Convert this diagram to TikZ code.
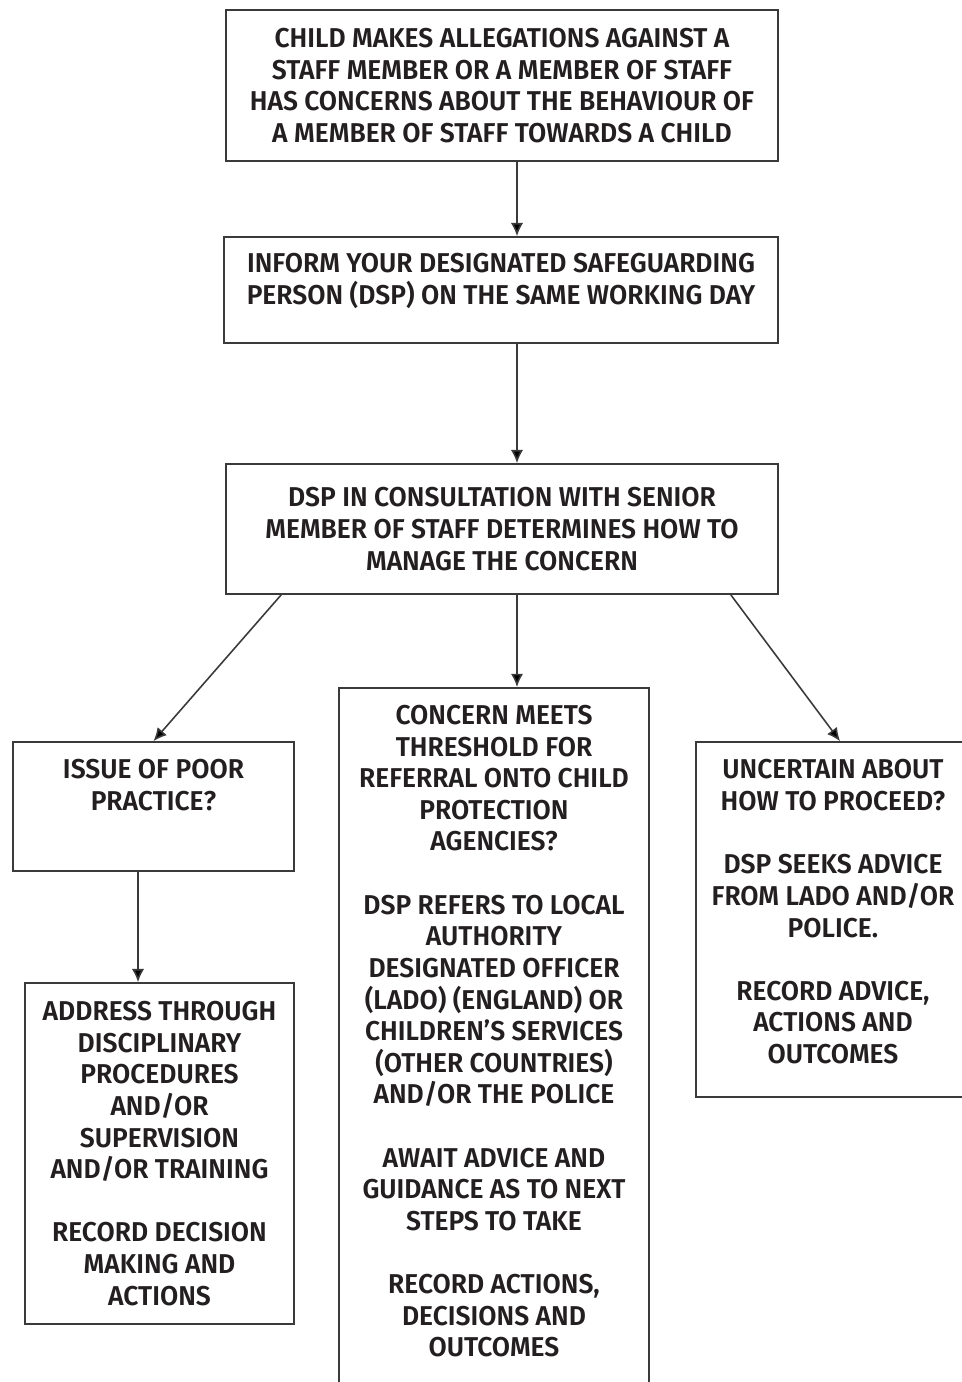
\documentclass[tikz,border=0pt]{standalone}
\usepackage{fontspec}
\setmainfont{Fira Sans}[UprightFont={* SemiBold},FakeStretch=0.97]
\usetikzlibrary{arrows.meta}
\definecolor{ink}{HTML}{231F20}
\definecolor{rule}{HTML}{3A3A3A}
\tikzset{
  stepbox/.style={draw=rule,line width=1pt,align=center,text=ink,inner sep=0pt,
    font=\fontsize{15.5}{18}\selectfont},
  flow/.style={draw=rule,line width=0.9pt,-{Latex[length=7.5pt,width=7pt,fill=black]}}
}
\begin{document}
\begin{tikzpicture}[x=0.02cm,y=-0.02cm]
\useasboundingbox (0,0) rectangle (961,1382);
\node[stepbox,minimum width=11.04cm,minimum height=3.02cm] (allege) at (502,85.5)
  {CHILD MAKES ALLEGATIONS AGAINST A\\STAFF MEMBER OR A MEMBER OF STAFF\\HAS CONCERNS ABOUT THE BEHAVIOUR OF\\A MEMBER OF STAFF TOWARDS A CHILD};
\node[stepbox,minimum width=11.08cm,minimum height=2.12cm] (inform) at (501,290)
  {INFORM YOUR DESIGNATED SAFEGUARDING\\PERSON (DSP) ON THE SAME WORKING DAY\\[-5pt]~};
\node[stepbox,minimum width=11.04cm,minimum height=2.6cm] (consult) at (502,529)
  {DSP IN CONSULTATION WITH SENIOR\\MEMBER OF STAFF DETERMINES HOW TO\\MANAGE THE CONCERN};
\node[stepbox,minimum width=5.62cm,minimum height=2.58cm] (poor) at (153.5,806.5)
  {ISSUE OF POOR\\PRACTICE?\\[7pt]~};
\node[stepbox,minimum width=5.38cm,minimum height=6.82cm] (address) at (159.5,1153.5)
  {ADDRESS THROUGH\\DISCIPLINARY\\PROCEDURES\\AND/OR\\SUPERVISION\\AND/OR TRAINING\\~\\RECORD DECISION\\MAKING AND\\ACTIONS};
\node[stepbox,minimum width=6.2cm,minimum height=14.36cm,anchor=north] (refer) at (494,687)
  {CONCERN MEETS\\THRESHOLD FOR\\REFERRAL ONTO CHILD\\PROTECTION\\AGENCIES?\\~\\DSP REFERS TO LOCAL\\AUTHORITY\\DESIGNATED OFFICER\\(LADO) (ENGLAND) OR\\CHILDREN'S SERVICES\\(OTHER COUNTRIES)\\AND/OR THE POLICE\\~\\AWAIT ADVICE AND\\GUIDANCE AS TO NEXT\\STEPS TO TAKE\\~\\RECORD ACTIONS,\\DECISIONS AND\\OUTCOMES\\~};
\node[stepbox,minimum width=5.48cm,minimum height=7.1cm] (unsure) at (833,919.5)
  {UNCERTAIN ABOUT\\HOW TO PROCEED?\\~\\DSP SEEKS ADVICE\\FROM LADO AND/OR\\POLICE.\\~\\RECORD ADVICE,\\ACTIONS AND\\OUTCOMES\\[-9pt]~};
% connectors
\draw[flow] ([xshift=0.3cm]allege.south) -- ([xshift=0.32cm]inform.north);
\draw[flow] ([xshift=0.32cm]inform.south) -- ([xshift=0.3cm]consult.north);
\draw[flow] ([xshift=0.3cm]consult.south) -- ([xshift=0.46cm]refer.north);
\draw[flow] ([xshift=1.12cm]consult.south west) -- (poor.north);
\draw[flow] ([xshift=-0.96cm]consult.south east) -- ([xshift=0.14cm]unsure.north);
\draw[flow] ([xshift=-0.31cm]poor.south) -- ([xshift=-0.43cm]address.north);
\end{tikzpicture}
\end{document}
